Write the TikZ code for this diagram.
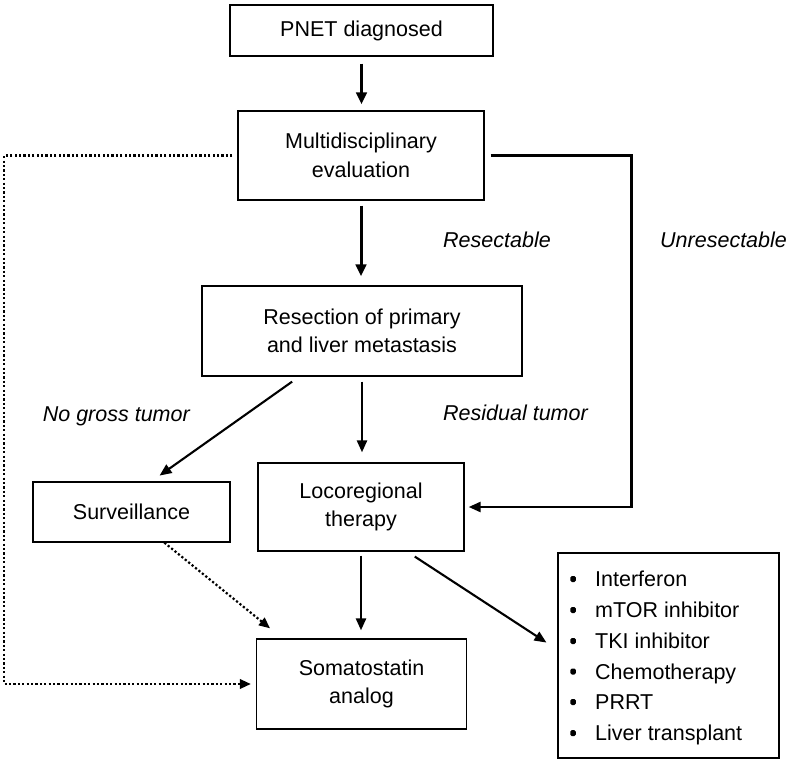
\documentclass[tikz,border=0pt]{standalone}
\usepackage{fontspec}
\setmainfont{Liberation Sans}
\usetikzlibrary{arrows.meta}
\begin{document}
\begin{tikzpicture}[x=1pt,y=-1pt,
  mybox/.style={draw=black,line width=1.3pt,align=center,inner sep=0pt,font=\fontsize{21.5}{28.5}\selectfont},
  lab/.style={font=\fontsize{21.5}{26}\selectfont\itshape,inner sep=0pt},
  itemtext/.style={font=\fontsize{21.5}{26}\selectfont,inner sep=0pt,anchor=base west},
  bul/.style={rectangle,rounded corners=1.5pt,fill=black,inner sep=0pt,minimum width=5.5pt,minimum height=6pt},
  thk/.style={-{Triangle[length=12pt,width=10.5pt]},line width=3pt},
  med/.style={-{Triangle[length=12pt,width=10pt]},line width=2.5pt},
  thn/.style={-{Triangle[length=12pt,width=10pt]},line width=2.1pt},
  dotline/.style={line width=2.2pt,dash pattern=on 2.2pt off 2.2pt,-{Triangle[length=11pt,width=9.5pt]}}
]
\useasboundingbox (0,0) rectangle (792,773);

% boxes
\node[mybox,minimum width=263pt,minimum height=51pt] (pnet) at (361.5,30.5) {PNET diagnosed};
\node[mybox,minimum width=246pt,minimum height=89pt] (multi) at (361,155.5) {Multidisciplinary\\evaluation};
\node[mybox,minimum width=320pt,minimum height=90pt] (resect) at (362,331) {Resection of primary\\and liver metastasis};
\node[mybox,minimum width=197pt,minimum height=60pt] (surv) at (131.5,512) {Surveillance};
\node[mybox,minimum width=206pt,minimum height=88pt] (loco) at (361,507) {Locoregional\\therapy};
\node[mybox,minimum width=210pt,minimum height=90pt] (soma) at (361.5,684) {Somatostatin\\analog};
\node[mybox,minimum width=221pt,minimum height=205pt] (list) at (668.5,655.5) {};

% list items
\node[bul] (b1) at (573,579) {};
\node[bul] (b2) at (573,610) {};
\node[bul] (b3) at (573,641) {};
\node[bul] (b4) at (573,671.5) {};
\node[bul] (b5) at (573,702) {};
\node[bul] (b6) at (573,733) {};
\node[itemtext] (i1) at (595,586.7) {Interferon};
\node[itemtext] (i2) at (595,617.7) {mTOR inhibitor};
\node[itemtext] (i3) at (595,648.7) {TKI inhibitor};
\node[itemtext] (i4) at (595,679.2) {Chemotherapy};
\node[itemtext] (i5) at (595,709.7) {PRRT};
\node[itemtext] (i6) at (595,740.7) {Liver transplant};

% labels
\node[lab,anchor=base west] (lres) at (443,247.7) {Resectable};
\node[lab,anchor=base west] (lunres) at (660,247.7) {Unresectable};
\node[lab,anchor=base west] (lresid) at (443,420.5) {Residual tumor};
\node[lab,anchor=base east] (lnog) at (190,421) {No gross tumor};

% connectors
\draw[thk,shorten <=7pt,shorten >=6pt] (pnet.south) -- (pnet.south |- multi.north);
\draw[thk,shorten <=5pt,shorten >=9pt] (multi.south) -- (multi.south |- resect.north);
\draw[med,shorten <=5pt,shorten >=10pt] (resect.south) -- (resect.south |- loco.north);
\draw[med,shorten <=4pt,shorten >=8pt] (loco.south) -- (loco.south |- soma.north);
\draw[med,shorten <=6pt,shorten >=4pt] (multi.east) -- ++(147,0) |- (loco.east);
\draw[dotline,shorten <=5pt,shorten >=5pt] (multi.west) -- ++(-233,0) |- (soma.west);
\draw[thn,shorten <=8.6pt,shorten >=10pt] (resect.216) -- (surv.57);
\draw[dotline,shorten >=16pt] (surv.-43.6) -- (soma.150.2);
\draw[thn,shorten <=9pt,shorten >=13pt] (loco.-44.8) -- (list.177.15);
\end{tikzpicture}
\end{document}
